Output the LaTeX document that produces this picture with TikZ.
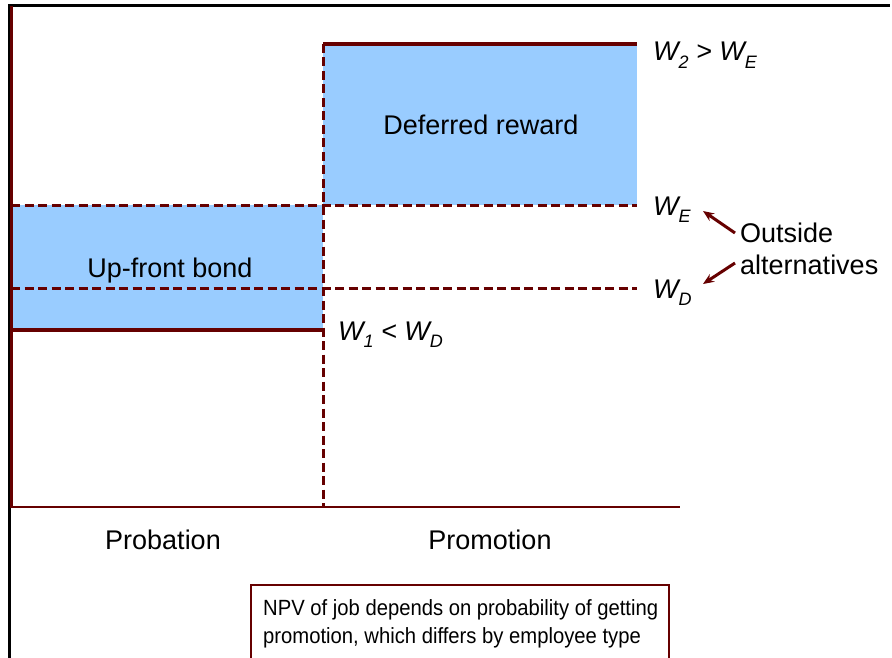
\documentclass[tikz,border=0pt]{standalone}
\usepackage{fontspec}
\setmainfont{Liberation Sans}
\newfontfamily\narrowfont[FakeStretch=0.92]{Liberation Sans}
\usetikzlibrary{arrows.meta}
\definecolor{bluefill}{HTML}{99CCFF}
\definecolor{mred}{HTML}{660000}
\newcommand\lowsub[1]{\raisebox{-0.28em}{\fontsize{18}{18}\selectfont #1}}
\tikzset{
  lbl/.style={font=\fontsize{27}{31}\selectfont, inner sep=0pt},
  boxtxt/.style={font=\narrowfont\fontsize{22}{28}\selectfont, inner sep=0pt},
  dashline/.style={mred, line width=3pt, dash pattern=on 9pt off 4.5pt},
  solidline/.style={mred, line width=4pt},
  axisline/.style={mred, line width=2.5pt},
  frameline/.style={black, line width=3pt},
  arr/.style={mred, line width=3pt, -{Stealth[length=11pt,width=9pt]}},
  fillbox/.style={fill=bluefill, draw=none}
}
\begin{document}
\begin{tikzpicture}[x=1pt,y=-1pt]
\useasboundingbox (0,0) rectangle (892,658);
\clip (0,0) rectangle (892,658);
% blue areas
\path[fillbox] (11,205) rectangle (323,330);
\path[fillbox] (323,44) rectangle (637,205);
% dashed lines
\draw[dashline] (11,205) -- (637,205);
\draw[dashline] (11,288) -- (637,288);
\draw[dashline] (323,44) -- (323,507);
% solid levels
\draw[solidline] (323,44) -- (637,44);
\draw[solidline] (11,330) -- (323,330);
% frame and axes
\draw[frameline] (9,660) -- (9,6) -- (890,6);
\draw[axisline] (11.5,6) -- (11.5,507) -- (680,507);
% texts in areas
\node[lbl, anchor=base] (defer) at (481,135) {Deferred reward};
\node[lbl, anchor=base] (bond) at (170,277) {Up-front bond};
% level labels
\node[lbl, anchor=base west] (W2) at (653,61) {\itshape W\lowsub{2} > W\lowsub{E}};
\node[lbl, anchor=base west] (WE) at (653,215) {\itshape W\lowsub{E}};
\node[lbl, anchor=base west] (WD) at (653,298) {\itshape W\lowsub{D}};
\node[lbl, anchor=base west] (W1) at (338,340) {\itshape W\lowsub{1} < W\lowsub{D}};
% outside alternatives
\node[lbl, anchor=base west] (out1) at (740,242) {Outside};
\node[lbl, anchor=base west] (out2) at (740,274) {alternatives};
\coordinate (s1) at (735,233);
\coordinate (t1) at (703,211);
\coordinate (s2) at (735,263);
\coordinate (t2) at (703,284);
\draw[arr] (s1) -- (t1);
\draw[arr] (s2) -- (t2);
% axis labels
\node[lbl, anchor=base] (prob) at (163,549) {Probation};
\node[lbl, anchor=base] (prom) at (490,549) {Promotion};
% note box
\draw[mred, line width=2pt] (251,665) |- (669,585) -- (669,665);
\node[boxtxt, anchor=base west] (npv1) at (263,615) {NPV of job depends on probability of getting};
\node[boxtxt, anchor=base west] (npv2) at (263,643) {promotion, which differs by employee type};
\end{tikzpicture}
\end{document}
